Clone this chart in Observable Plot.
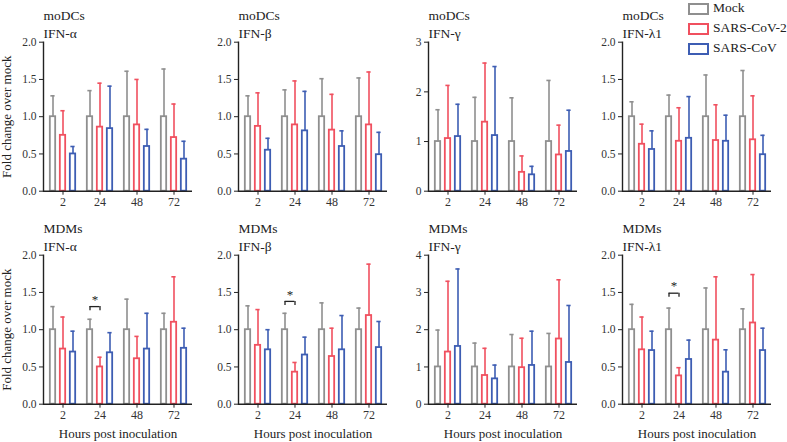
<!DOCTYPE html>
<html>
<head>
<meta charset="utf-8">
<script src="https://cdn.jsdelivr.net/npm/d3@7"></script>
<script src="https://cdn.jsdelivr.net/npm/@observablehq/plot@0.6"></script>
<style>
  body { margin: 0; background: #fff; font-family: "Liberation Serif", "DejaVu Serif", serif; }
  #chart { position: relative; width: 787px; height: 442px; overflow: hidden; background: #fff; }
  #chart svg { position: absolute; overflow: visible; }
  .legend { position: absolute; left: 688px; top: 0; font-size: 13.5px; color: #222; }
  .legend .row { position: absolute; left: 0; white-space: nowrap; height: 14px; line-height: 14px; }
  .legend .box { position: absolute; left: 0; top: 1px; width: 17px; height: 8px; border: 2px solid; }
  .legend .lab { position: absolute; left: 25px; top: -1px; }
</style>
</head>
<body>
<div id="chart"></div>
<script>
// ---------- data ----------
const hours = ["2", "24", "48", "72"];
const series = ["Mock", "SARS-CoV-2", "SARS-CoV"];
const seriesColors = ["#8f8f8f", "#f0505f", "#3d5db3"];
const ticks2 = [0, 0.5, 1, 1.5, 2];
const ticks3 = [0, 1, 2, 3];
const ticks4 = [0, 1, 2, 3, 4];
const yTitle = "Fold change over mock";
const xTitle = "Hours post inoculation";

// mean fold change, rows = Mock, SARS-CoV-2, SARS-CoV ; columns = 2, 24, 48, 72 h
const moDCsAlphaMean  = [[1, 1, 1, 1], [0.75, 0.86, 0.89, 0.72], [0.50, 0.84, 0.60, 0.43]];
const moDCsAlphaUpper = [[1.28, 1.35, 1.61, 1.64], [1.08, 1.45, 1.50, 1.17], [0.60, 1.41, 0.83, 0.67]];
const moDCsBetaMean   = [[1, 1, 1, 1], [0.87, 0.89, 0.82, 0.89], [0.55, 0.81, 0.60, 0.49]];
const moDCsBetaUpper  = [[1.28, 1.36, 1.51, 1.52], [1.32, 1.48, 1.30, 1.60], [0.71, 1.34, 0.81, 0.79]];
const moDCsGammaMean  = [[1, 1, 1, 1], [1.06, 1.39, 0.38, 0.73], [1.10, 1.12, 0.33, 0.80]];
const moDCsGammaUpper = [[1.64, 1.89, 1.88, 2.23], [2.13, 2.58, 0.71, 1.33], [1.75, 2.51, 0.50, 1.63]];
const moDCsLambdaMean = [[1, 1, 1, 1], [0.63, 0.67, 0.68, 0.69], [0.56, 0.71, 0.67, 0.49]];
const moDCsLambdaUpper= [[1.20, 1.29, 1.56, 1.62], [0.90, 1.12, 1.16, 1.28], [0.81, 1.27, 1.02, 0.75]];

const mdmAlphaMean  = [[1, 1, 1, 1], [0.74, 0.50, 0.61, 1.10], [0.70, 0.69, 0.74, 0.75]];
const mdmAlphaUpper = [[1.31, 1.14, 1.41, 1.22], [1.17, 0.63, 0.91, 1.71], [0.98, 0.96, 1.22, 1.02]];
const mdmBetaMean   = [[1, 1, 1, 1], [0.79, 0.43, 0.64, 1.19], [0.73, 0.66, 0.73, 0.76]];
const mdmBetaUpper  = [[1.32, 1.22, 1.36, 1.29], [1.27, 0.56, 1.02, 1.88], [1.00, 0.90, 1.19, 1.11]];
const mdmGammaMean  = [[1, 1, 1, 1], [1.40, 0.77, 0.98, 1.75], [1.55, 0.68, 1.04, 1.12]];
const mdmGammaUpper = [[1.99, 1.64, 1.87, 1.90], [3.30, 1.50, 1.77, 3.34], [3.63, 1.05, 1.96, 2.65]];
const mdmLambdaMean = [[1, 1, 1, 1], [0.73, 0.38, 0.86, 1.09], [0.72, 0.60, 0.43, 0.72]];
const mdmLambdaUpper= [[1.34, 1.29, 1.56, 1.28], [1.17, 0.49, 1.71, 1.74], [0.98, 0.86, 0.73, 1.02]];

// significance brackets (Mock vs SARS-CoV-2): hour, bracket level
const mdmAlphaSig  = [{hour: "24", level: 1.31}];
const mdmBetaSig   = [{hour: "24", level: 1.38}];
const mdmLambdaSig = [{hour: "24", level: 1.49}];

const panels = [
  {cell: "moDCs", gene: "IFN-α",  mean: moDCsAlphaMean,  upper: moDCsAlphaUpper,  dom: [0, 2], ticks: ticks2, sig: [], row: 0, col: 0},
  {cell: "moDCs", gene: "IFN-β",  mean: moDCsBetaMean,   upper: moDCsBetaUpper,   dom: [0, 2], ticks: ticks2, sig: [], row: 0, col: 1},
  {cell: "moDCs", gene: "IFN-γ",  mean: moDCsGammaMean,  upper: moDCsGammaUpper,  dom: [0, 3], ticks: ticks3, sig: [], row: 0, col: 2},
  {cell: "moDCs", gene: "IFN-λ1", mean: moDCsLambdaMean, upper: moDCsLambdaUpper, dom: [0, 2], ticks: ticks2, sig: [], row: 0, col: 3},
  {cell: "MDMs",  gene: "IFN-α",  mean: mdmAlphaMean,    upper: mdmAlphaUpper,    dom: [0, 2], ticks: ticks2, sig: mdmAlphaSig, row: 1, col: 0},
  {cell: "MDMs",  gene: "IFN-β",  mean: mdmBetaMean,     upper: mdmBetaUpper,     dom: [0, 2], ticks: ticks2, sig: mdmBetaSig, row: 1, col: 1},
  {cell: "MDMs",  gene: "IFN-γ",  mean: mdmGammaMean,    upper: mdmGammaUpper,    dom: [0, 4], ticks: ticks4, sig: [], row: 1, col: 2},
  {cell: "MDMs",  gene: "IFN-λ1", mean: mdmLambdaMean,   upper: mdmLambdaUpper,   dom: [0, 2], ticks: ticks2, sig: mdmLambdaSig, row: 1, col: 3}
];

// ---------- layout ----------
const frameLefts = [43, 237.7, 428.3, 621.7];
const rowTops = [0, 212.6];
const mL = 43, mT = 41.7, plotW = 149, plotH = 149, mR = 6;
const step = plotW / hours.length;
const barW = 5.6, capW = 4.5, gap = 10;
const barInset = (step - barW) / 2;
const capInset = (step - capW) / 2;
const ink = "#222";

const chart = document.getElementById("chart");

for (const p of panels) {
  const rows = [];
  series.forEach((s, i) => hours.forEach((h, j) => rows.push({hour: h, series: s, si: i, mean: p.mean[i][j], upper: p.upper[i][j]})));
  const mB = p.row === 0 ? 30.3 : 38;
  const fmt = p.dom[1] === 2 ? d3.format(".1f") : d3.format("d");
  const marks = [];
  series.forEach((s, i) => {
    const d = rows.filter(r => r.si === i);
    const dx = (i - 1) * gap;
    marks.push(Plot.ruleX(d, {x: "hour", y1: "mean", y2: "upper", stroke: seriesColors[i], strokeWidth: 1.6, dx}));
    marks.push(Plot.tickY(d, {x: "hour", y: "upper", stroke: seriesColors[i], strokeWidth: 1.6, insetLeft: capInset, insetRight: capInset, dx}));
    marks.push(Plot.barY(d, {x: "hour", y1: 0, y2: "mean", fill: "white", stroke: seriesColors[i], strokeWidth: 1.8, insetLeft: barInset, insetRight: barInset, dx}));
  });
  if (p.sig.length) {
    marks.push(Plot.ruleY(p.sig, {x1: "hour", x2: "hour", y: "level", stroke: ink, strokeWidth: 1.3, insetLeft: step / 2 - gap, insetRight: step / 2}));
    marks.push(Plot.ruleX(p.sig, {x: "hour", y1: "level", y2: d => d.level - 0.055, stroke: ink, strokeWidth: 1.3, dx: -gap}));
    marks.push(Plot.ruleX(p.sig, {x: "hour", y1: "level", y2: d => d.level - 0.055, stroke: ink, strokeWidth: 1.3}));
    marks.push(Plot.text(p.sig, {x: "hour", y: "level", text: () => "*", dx: -gap / 2, dy: -7, fontSize: 13, fill: ink}));
  }
  marks.push(Plot.frame({anchor: "left", stroke: ink, strokeWidth: 1.4}));
  marks.push(Plot.ruleY([0], {stroke: ink, strokeWidth: 1.4}));
  marks.push(Plot.axisY({ticks: p.ticks, tickFormat: fmt, tickSize: 4, tickPadding: 3, stroke: ink, fill: "#333", fontSize: 11.5, label: null}));
  marks.push(Plot.axisX({tickSize: 4, tickPadding: 2, stroke: ink, fill: "#333", fontSize: 12, label: null}));
  if (p.col === 0) {
    marks.push(Plot.text([yTitle], {text: d => d, frameAnchor: "left", dx: -36.5, rotate: -90, textAnchor: "middle", lineAnchor: "middle", fontSize: 13, fill: ink}));
  }
  if (p.row === 1) {
    marks.push(Plot.text([xTitle], {text: d => d, frameAnchor: "bottom", dy: 29.7, textAnchor: "middle", lineAnchor: "middle", fontSize: 13, fill: ink}));
  }
  marks.push(Plot.text([p.cell], {text: d => d, frameAnchor: "top-left", dy: -27, textAnchor: "start", lineAnchor: "middle", fontSize: 13.5, fill: ink}));
  marks.push(Plot.text([p.gene], {text: d => d, frameAnchor: "top-left", dy: -9, textAnchor: "start", lineAnchor: "middle", fontSize: 13.5, fill: ink}));

  const svg = Plot.plot({
    width: mL + plotW + mR,
    height: mT + plotH + mB,
    marginLeft: mL, marginRight: mR, marginTop: mT, marginBottom: mB,
    style: {background: "transparent", fontFamily: "'Liberation Serif', serif", fontSize: "11px", color: ink, overflow: "visible"},
    x: {type: "band", domain: hours, padding: 0, label: null},
    y: {domain: p.dom, label: null},
    marks
  });
  svg.style.left = (frameLefts[p.col] - mL) + "px";
  svg.style.top = rowTops[p.row] + "px";
  svg.style.maxWidth = "none";
  chart.appendChild(svg);
}

// ---------- legend ----------
const legend = document.createElement("div");
legend.className = "legend";
const legendTops = [2, 22, 42];
series.forEach((s, i) => {
  const row = document.createElement("div");
  row.className = "row";
  row.style.top = legendTops[i] + "px";
  row.innerHTML = `<span class="box" style="border-color:${seriesColors[i]}"></span><span class="lab">${s}</span>`;
  legend.appendChild(row);
});
chart.appendChild(legend);
</script>
</body>
</html>
